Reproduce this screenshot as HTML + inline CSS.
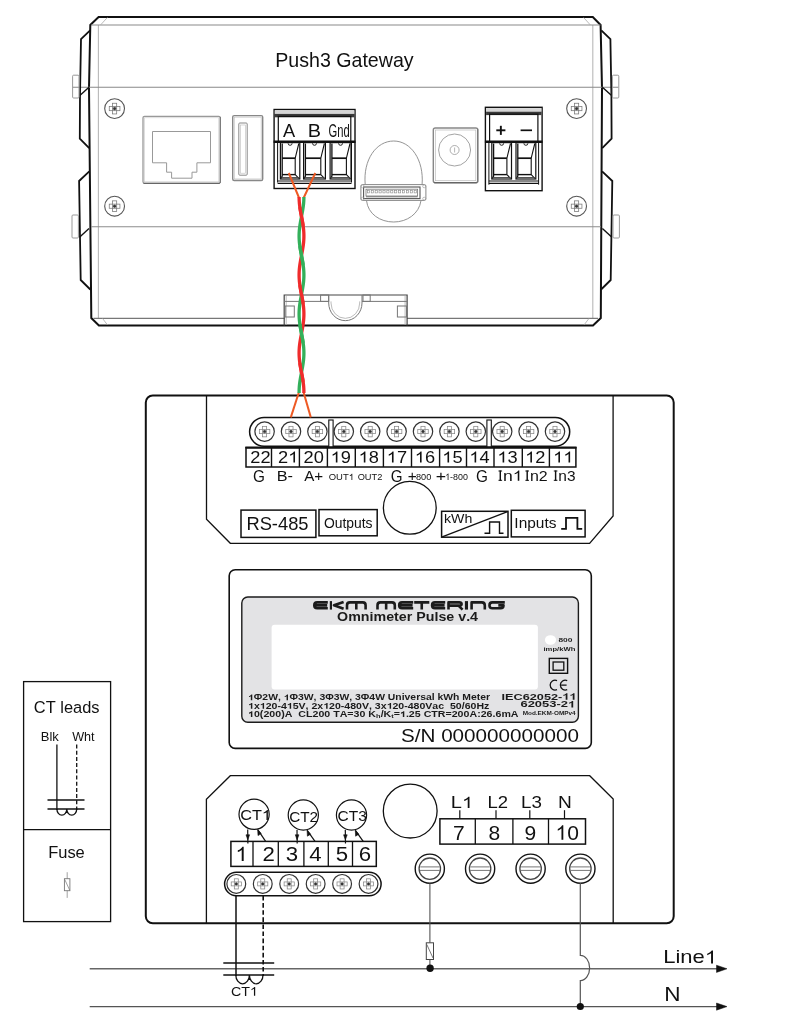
<!DOCTYPE html>
<html><head><meta charset="utf-8"><style>
html,body{margin:0;padding:0;background:#fff;}
svg{display:block;font-family:"Liberation Sans", sans-serif;will-change:transform;}
text{font-kerning:none;white-space:pre;}
</style></head><body>
<svg width="791" height="1024" viewBox="0 0 791 1024">
<rect x="0" y="0" width="791" height="1024" fill="#fff"/>
<path d="M98.6,17 L592.8,17 L600.6,25 L602,88 L600.8,318 L593,325.4 L98.9,325.4 L91.3,318 L89,88 L90.3,25 Z" stroke="#111" stroke-width="2.0" fill="none" stroke-linejoin="miter"/>
<line x1="98.4" y1="25" x2="98.4" y2="318.4" stroke="#b8b8b8" stroke-width="1.1" />
<line x1="592.8" y1="25" x2="592.8" y2="318.4" stroke="#b8b8b8" stroke-width="1.1" />
<line x1="91" y1="25" x2="600.5" y2="25" stroke="#8a8a8a" stroke-width="1.2" />
<line x1="93.4" y1="318.4" x2="284.5" y2="318.4" stroke="#777" stroke-width="1.1" />
<line x1="407" y1="318.4" x2="598" y2="318.4" stroke="#777" stroke-width="1.1" />
<line x1="107.4" y1="17.5" x2="100.5" y2="25" stroke="#aaa" stroke-width="0.8" />
<line x1="583.6" y1="17.5" x2="590.4" y2="25" stroke="#aaa" stroke-width="0.8" />
<line x1="102.5" y1="318.4" x2="107.5" y2="325" stroke="#aaa" stroke-width="0.8" />
<line x1="589" y1="318.4" x2="584" y2="325" stroke="#aaa" stroke-width="0.8" />
<line x1="72.6" y1="87.3" x2="618.4" y2="87.3" stroke="#888" stroke-width="1.1" />
<line x1="91" y1="226.7" x2="600.8" y2="226.7" stroke="#8c8c8c" stroke-width="1.1" />
<path d="M90.1,30.3 L81,39.2 L80,95.5 L79.8,138.6 L89.2,148.1" stroke="#111" stroke-width="1.8" fill="none" />
<path d="M89,87.3 L79.8,95.5" stroke="#111" stroke-width="1.4" fill="none" />
<path d="M89.3,171.3 L79.1,181 L80.7,280 L90.3,289.5" stroke="#111" stroke-width="1.8" fill="none" />
<path d="M89,228.4 L79.5,237.2" stroke="#111" stroke-width="1.4" fill="none" />
<path d="M601.3,30.3 L610.4,39.2 L611.4,95.5 L611.6,138.6 L602.2,148.1" stroke="#111" stroke-width="1.8" fill="none" />
<path d="M602.4,87.3 L611.6,95.5" stroke="#111" stroke-width="1.4" fill="none" />
<path d="M602.1,171.3 L612.3,181 L610.7,280 L601.1,289.5" stroke="#111" stroke-width="1.8" fill="none" />
<path d="M602.4,228.4 L611.9,237.2" stroke="#111" stroke-width="1.4" fill="none" />
<rect x="72.6" y="75.2" width="6.4" height="22.8" stroke="#999" stroke-width="1" fill="none" rx="1" />
<rect x="72.0" y="215" width="6.4" height="23" stroke="#999" stroke-width="1" fill="none" rx="1" />
<rect x="612.4" y="75.2" width="6.4" height="22.8" stroke="#999" stroke-width="1" fill="none" rx="1" />
<rect x="613.0" y="215" width="6.4" height="23" stroke="#999" stroke-width="1" fill="none" rx="1" />
<text transform="translate(275.19,66.60) scale(0.9876,1)" font-size="19.87" font-weight="normal" fill="#111" >Push3 Gateway</text>
<circle cx="114.6" cy="108.6" r="9.9" stroke="#555" stroke-width="1.1" fill="none" />
<rect x="109.25" y="106.52" width="10.69" height="4.16" stroke="#777" stroke-width="0.75" fill="none" rx="0" />
<rect x="112.52" y="103.25" width="4.16" height="10.69" stroke="#777" stroke-width="0.75" fill="none" rx="0" />
<circle cx="114.6" cy="108.6" r="1.2870000000000001" stroke="#333" stroke-width="0.6" fill="#333" />
<circle cx="114.6" cy="206.2" r="9.9" stroke="#555" stroke-width="1.1" fill="none" />
<rect x="109.25" y="204.12" width="10.69" height="4.16" stroke="#777" stroke-width="0.75" fill="none" rx="0" />
<rect x="112.52" y="200.85" width="4.16" height="10.69" stroke="#777" stroke-width="0.75" fill="none" rx="0" />
<circle cx="114.6" cy="206.2" r="1.2870000000000001" stroke="#333" stroke-width="0.6" fill="#333" />
<circle cx="576.6" cy="108.6" r="9.9" stroke="#555" stroke-width="1.1" fill="none" />
<rect x="571.25" y="106.52" width="10.69" height="4.16" stroke="#777" stroke-width="0.75" fill="none" rx="0" />
<rect x="574.52" y="103.25" width="4.16" height="10.69" stroke="#777" stroke-width="0.75" fill="none" rx="0" />
<circle cx="576.6" cy="108.6" r="1.2870000000000001" stroke="#333" stroke-width="0.6" fill="#333" />
<circle cx="576.6" cy="206.2" r="9.9" stroke="#555" stroke-width="1.1" fill="none" />
<rect x="571.25" y="204.12" width="10.69" height="4.16" stroke="#777" stroke-width="0.75" fill="none" rx="0" />
<rect x="574.52" y="200.85" width="4.16" height="10.69" stroke="#777" stroke-width="0.75" fill="none" rx="0" />
<circle cx="576.6" cy="206.2" r="1.2870000000000001" stroke="#333" stroke-width="0.6" fill="#333" />
<rect x="143.0" y="116.3" width="77.3" height="67.0" stroke="#999" stroke-width="1.3" fill="none" rx="1.5" />
<line x1="143.5" y1="183.3" x2="219.8" y2="183.3" stroke="#666" stroke-width="1.2" />
<line x1="220.3" y1="117" x2="220.3" y2="183" stroke="#777" stroke-width="1.1" />
<rect x="144.5" y="117.8" width="74.3" height="64.0" stroke="#c8c8c8" stroke-width="0.6" fill="none" rx="0" />
<path d="M152.5,131.5 L210.5,131.5 L210.5,162.8 L196.9,162.8 L196.9,172.2 L192,172.2 L192,178.2 L171.6,178.2 L171.6,172.2 L166.6,172.2 L166.6,162.8 L152.5,162.8 Z" stroke="#999" stroke-width="1" fill="none" />
<rect x="232.7" y="115.6" width="30" height="64.9" stroke="#888" stroke-width="1.4" fill="none" rx="1.5" />
<rect x="234.2" y="117.1" width="27" height="61.9" stroke="#bbb" stroke-width="0.7" fill="none" rx="0" />
<rect x="238.8" y="123" width="8.4" height="52.2" stroke="#888" stroke-width="1" fill="none" rx="1" />
<rect x="240.4" y="125" width="5.2" height="48.2" stroke="#bbb" stroke-width="0.6" fill="none" rx="0" />
<path d="M365.2,184.4 C363,160 376,141 393.7,141 C411,141 424,160 422.1,184.4" stroke="#888" stroke-width="0.9" fill="none" />
<path d="M366.5,200.6 C368,214 380,222 393.7,222 C407,222 419,214 421,200.6" stroke="#888" stroke-width="0.9" fill="none" />
<rect x="360.9" y="184.6" width="65" height="15.8" stroke="#888" stroke-width="1" fill="none" rx="1.5" />
<rect x="363.6" y="187.0" width="56.4" height="11.6" stroke="#555" stroke-width="1.1" fill="none" rx="0" />
<rect x="366.0" y="189.2" width="51.6" height="6.8" stroke="#777" stroke-width="0.8" fill="none" rx="0" />
<rect x="367.3" y="190.3" width="2.2" height="2.6" stroke="#888" stroke-width="0.6" fill="none" rx="0" />
<rect x="371.2" y="190.3" width="2.2" height="2.6" stroke="#888" stroke-width="0.6" fill="none" rx="0" />
<rect x="375.1" y="190.3" width="2.2" height="2.6" stroke="#888" stroke-width="0.6" fill="none" rx="0" />
<rect x="379.0" y="190.3" width="2.2" height="2.6" stroke="#888" stroke-width="0.6" fill="none" rx="0" />
<rect x="382.9" y="190.3" width="2.2" height="2.6" stroke="#888" stroke-width="0.6" fill="none" rx="0" />
<rect x="386.8" y="190.3" width="2.2" height="2.6" stroke="#888" stroke-width="0.6" fill="none" rx="0" />
<rect x="390.7" y="190.3" width="2.2" height="2.6" stroke="#888" stroke-width="0.6" fill="none" rx="0" />
<rect x="394.6" y="190.3" width="2.2" height="2.6" stroke="#888" stroke-width="0.6" fill="none" rx="0" />
<rect x="398.5" y="190.3" width="2.2" height="2.6" stroke="#888" stroke-width="0.6" fill="none" rx="0" />
<rect x="402.4" y="190.3" width="2.2" height="2.6" stroke="#888" stroke-width="0.6" fill="none" rx="0" />
<rect x="406.3" y="190.3" width="2.2" height="2.6" stroke="#888" stroke-width="0.6" fill="none" rx="0" />
<rect x="410.2" y="190.3" width="2.2" height="2.6" stroke="#888" stroke-width="0.6" fill="none" rx="0" />
<rect x="414.1" y="190.3" width="2.2" height="2.6" stroke="#888" stroke-width="0.6" fill="none" rx="0" />
<line x1="366" y1="196.8" x2="417.6" y2="196.8" stroke="#666" stroke-width="0.9" />
<circle cx="362.6" cy="186.3" r="1.5" stroke="#999" stroke-width="0.6" fill="none" />
<circle cx="424.2" cy="186.3" r="1.5" stroke="#999" stroke-width="0.6" fill="none" />
<circle cx="362.6" cy="198.7" r="1.5" stroke="#999" stroke-width="0.6" fill="none" />
<circle cx="424.2" cy="198.7" r="1.5" stroke="#999" stroke-width="0.6" fill="none" />
<rect x="433.3" y="128" width="44.5" height="54.7" stroke="#888" stroke-width="1.4" fill="none" rx="2" />
<rect x="435.3" y="130" width="40.5" height="50.7" stroke="#bbb" stroke-width="0.7" fill="none" rx="0" />
<line x1="434" y1="182.6" x2="477.2" y2="182.6" stroke="#666" stroke-width="1.2" />
<line x1="477.7" y1="129" x2="477.7" y2="182.3" stroke="#777" stroke-width="1.1" />
<circle cx="454.6" cy="150" r="16" stroke="#999" stroke-width="0.9" fill="none" />
<circle cx="454.6" cy="150" r="4.5" stroke="#999" stroke-width="0.8" fill="none" />
<line x1="454.6" y1="147.5" x2="454.6" y2="152.5" stroke="#999" stroke-width="0.7" />
<path d="M284.2,325.4 L284.2,295 L407.1,295 L407.1,325.4" stroke="#444" stroke-width="1.2" fill="none" />
<line x1="286.2" y1="296" x2="286.2" y2="325" stroke="#aaa" stroke-width="0.8" />
<line x1="405.1" y1="296" x2="405.1" y2="325" stroke="#aaa" stroke-width="0.8" />
<line x1="284.2" y1="301.4" x2="328.7" y2="301.4" stroke="#777" stroke-width="1" />
<line x1="362" y1="301.4" x2="407.1" y2="301.4" stroke="#777" stroke-width="1" />
<rect x="320.6" y="295" width="8.1" height="6.4" stroke="#777" stroke-width="1" fill="none" rx="0" />
<rect x="363" y="295" width="7.2" height="6.4" stroke="#777" stroke-width="1" fill="none" rx="0" />
<path d="M328.7,295 L328.7,303 A16.6,17.6 0 0 0 362,303 L362,295" stroke="#777" stroke-width="1" fill="none" />
<path d="M331,301.4 L331,303 A14.3,15.3 0 0 0 359.7,303 L359.7,301.4" stroke="#aaa" stroke-width="0.8" fill="none" />
<rect x="285.2" y="306" width="9.1" height="11" stroke="#777" stroke-width="1" fill="none" rx="0" />
<rect x="397.4" y="306" width="9.1" height="11" stroke="#777" stroke-width="1" fill="none" rx="0" />
<rect x="274.1" y="109.5" width="80.89999999999998" height="79.0" stroke="#111" stroke-width="1.4" fill="none" rx="0" />
<rect x="274.8" y="110.3" width="79.49999999999997" height="3.6" fill="#d6d6d6"/>
<rect x="274.8" y="113.9" width="79.49999999999997" height="3.4" fill="#3a3a3a"/>
<rect x="278.3" y="116.4" width="72.49999999999997" height="25.29999999999999" stroke="#111" stroke-width="1.2" fill="none" rx="0" />
<line x1="273.6" y1="141.7" x2="355.5" y2="141.7" stroke="#111" stroke-width="2.4" />
<line x1="277.6" y1="141.7" x2="277.6" y2="182.5" stroke="#111" stroke-width="1" />
<line x1="351.5" y1="141.7" x2="351.5" y2="182.5" stroke="#111" stroke-width="1" />
<rect x="280.4" y="142.6" width="19.400000000000034" height="36.400000000000006" stroke="#111" stroke-width="1.2" fill="none" rx="0" />
<path d="M282.2,143.5 L282.2,176 L281.0,178.6" stroke="#111" stroke-width="1.3" fill="none" />
<path d="M298.8,143.5 L295.2,158.2 L295.2,174.6 L298.8,178.4" stroke="#111" stroke-width="1.1" fill="none" />
<line x1="282.2" y1="158.2" x2="295.2" y2="158.2" stroke="#111" stroke-width="1.7" />
<line x1="282.2" y1="174.6" x2="295.2" y2="174.6" stroke="#111" stroke-width="1.4" />
<line x1="281.4" y1="177.6" x2="298.8" y2="177.6" stroke="#444" stroke-width="1.0" />
<path d="M288.1,143.3 A2,2 0 0 0 292.1,143.3" stroke="#111" stroke-width="0.9" fill="none" />
<rect x="303.6" y="142.6" width="21.799999999999955" height="36.400000000000006" stroke="#111" stroke-width="1.2" fill="none" rx="0" />
<path d="M305.40000000000003,143.5 L305.40000000000003,176 L304.20000000000005,178.6" stroke="#111" stroke-width="1.3" fill="none" />
<path d="M324.4,143.5 L320.79999999999995,158.2 L320.79999999999995,174.6 L324.4,178.4" stroke="#111" stroke-width="1.1" fill="none" />
<line x1="305.40000000000003" y1="158.2" x2="320.79999999999995" y2="158.2" stroke="#111" stroke-width="1.7" />
<line x1="305.40000000000003" y1="174.6" x2="320.79999999999995" y2="174.6" stroke="#111" stroke-width="1.4" />
<line x1="304.6" y1="177.6" x2="324.4" y2="177.6" stroke="#444" stroke-width="1.0" />
<path d="M312.5,143.3 A2,2 0 0 0 316.5,143.3" stroke="#111" stroke-width="0.9" fill="none" />
<rect x="330.1" y="142.6" width="20.899999999999977" height="36.400000000000006" stroke="#111" stroke-width="1.2" fill="none" rx="0" />
<path d="M331.90000000000003,143.5 L331.90000000000003,176 L330.70000000000005,178.6" stroke="#111" stroke-width="1.3" fill="none" />
<path d="M350,143.5 L346.4,158.2 L346.4,174.6 L350,178.4" stroke="#111" stroke-width="1.1" fill="none" />
<line x1="331.90000000000003" y1="158.2" x2="346.4" y2="158.2" stroke="#111" stroke-width="1.7" />
<line x1="331.90000000000003" y1="174.6" x2="346.4" y2="174.6" stroke="#111" stroke-width="1.4" />
<line x1="331.1" y1="177.6" x2="350.0" y2="177.6" stroke="#444" stroke-width="1.0" />
<path d="M338.55,143.3 A2,2 0 0 0 342.55,143.3" stroke="#111" stroke-width="0.9" fill="none" />
<line x1="277.6" y1="183.4" x2="351.5" y2="183.4" stroke="#111" stroke-width="1.2" />
<line x1="277.6" y1="181" x2="351.5" y2="181" stroke="#111" stroke-width="1" />
<text transform="translate(283.06,136.70) scale(0.9584,1)" font-size="19.04" font-weight="normal" fill="#111" >A</text>
<text transform="translate(307.77,136.70) scale(1.0460,1)" font-size="19.04" font-weight="normal" fill="#111" >B</text>
<text transform="translate(328.54,136.70) scale(0.5972,1)" font-size="18.77" font-weight="normal" fill="#111" >Gnd</text>
<rect x="485.4" y="107.3" width="56.700000000000045" height="83.39999999999999" stroke="#111" stroke-width="1.4" fill="none" rx="0" />
<rect x="486.09999999999997" y="108.1" width="55.30000000000005" height="3.6" fill="#d6d6d6"/>
<rect x="486.09999999999997" y="111.7" width="55.30000000000005" height="3.4" fill="#3a3a3a"/>
<rect x="489.59999999999997" y="114.2" width="48.30000000000005" height="27.499999999999993" stroke="#111" stroke-width="1.2" fill="none" rx="0" />
<line x1="484.9" y1="141.7" x2="542.6" y2="141.7" stroke="#111" stroke-width="2.4" />
<line x1="488.9" y1="141.7" x2="488.9" y2="184.7" stroke="#111" stroke-width="1" />
<line x1="538.6" y1="141.7" x2="538.6" y2="184.7" stroke="#111" stroke-width="1" />
<rect x="491.8" y="142.6" width="19.69999999999999" height="36.400000000000006" stroke="#111" stroke-width="1.2" fill="none" rx="0" />
<path d="M493.6,143.5 L493.6,176 L492.40000000000003,178.6" stroke="#111" stroke-width="1.3" fill="none" />
<path d="M510.5,143.5 L506.9,158.2 L506.9,174.6 L510.5,178.4" stroke="#111" stroke-width="1.1" fill="none" />
<line x1="493.6" y1="158.2" x2="506.9" y2="158.2" stroke="#111" stroke-width="1.7" />
<line x1="493.6" y1="174.6" x2="506.9" y2="174.6" stroke="#111" stroke-width="1.4" />
<line x1="492.8" y1="177.6" x2="510.5" y2="177.6" stroke="#444" stroke-width="1.0" />
<path d="M499.65,143.3 A2,2 0 0 0 503.65,143.3" stroke="#111" stroke-width="0.9" fill="none" />
<rect x="516" y="142.6" width="19.799999999999955" height="36.400000000000006" stroke="#111" stroke-width="1.2" fill="none" rx="0" />
<path d="M517.8,143.5 L517.8,176 L516.6,178.6" stroke="#111" stroke-width="1.3" fill="none" />
<path d="M534.8,143.5 L531.1999999999999,158.2 L531.1999999999999,174.6 L534.8,178.4" stroke="#111" stroke-width="1.1" fill="none" />
<line x1="517.8" y1="158.2" x2="531.1999999999999" y2="158.2" stroke="#111" stroke-width="1.7" />
<line x1="517.8" y1="174.6" x2="531.1999999999999" y2="174.6" stroke="#111" stroke-width="1.4" />
<line x1="517.0" y1="177.6" x2="534.8" y2="177.6" stroke="#444" stroke-width="1.0" />
<path d="M523.9,143.3 A2,2 0 0 0 527.9,143.3" stroke="#111" stroke-width="0.9" fill="none" />
<line x1="488.9" y1="183.4" x2="538.6" y2="183.4" stroke="#111" stroke-width="1.2" />
<line x1="488.9" y1="181" x2="538.6" y2="181" stroke="#111" stroke-width="1" />
<line x1="496.3" y1="130.3" x2="505.4" y2="130.3" stroke="#111" stroke-width="1.9" />
<line x1="500.85" y1="125.8" x2="500.85" y2="134.9" stroke="#111" stroke-width="1.9" />
<line x1="520.6" y1="130.3" x2="532" y2="130.3" stroke="#111" stroke-width="1.7" />
<rect x="145.8" y="395.4" width="527.9" height="527.9" stroke="#111" stroke-width="2" fill="none" rx="7" />
<path d="M206.5,395.4 L206.5,519.3 L230.3,543.3 L589.6,543.3 L613.1,516 L613.1,395.4" stroke="#111" stroke-width="1.3" fill="none" />
<path d="M206.4,923.3 L206.4,799.2 L230.3,775.7 L589.7,775.7 L613.2,799.1 L613.2,923.3" stroke="#111" stroke-width="1.3" fill="none" />
<rect x="249.6" y="417.4" width="320.1" height="28.9" stroke="#111" stroke-width="1.5" fill="none" rx="14.45" />
<circle cx="264.6" cy="431.6" r="9.7" stroke="#333" stroke-width="1.2" fill="none" />
<rect x="259.36" y="429.56" width="10.48" height="4.07" stroke="#888" stroke-width="0.75" fill="none" rx="0" />
<rect x="262.56" y="426.36" width="4.07" height="10.48" stroke="#888" stroke-width="0.75" fill="none" rx="0" />
<circle cx="264.6" cy="431.6" r="1.261" stroke="#333" stroke-width="0.6" fill="#333" />
<circle cx="291.0" cy="431.6" r="9.7" stroke="#333" stroke-width="1.2" fill="none" />
<rect x="285.76" y="429.56" width="10.48" height="4.07" stroke="#888" stroke-width="0.75" fill="none" rx="0" />
<rect x="288.96" y="426.36" width="4.07" height="10.48" stroke="#888" stroke-width="0.75" fill="none" rx="0" />
<circle cx="291.0" cy="431.6" r="1.261" stroke="#333" stroke-width="0.6" fill="#333" />
<circle cx="317.4" cy="431.6" r="9.7" stroke="#333" stroke-width="1.2" fill="none" />
<rect x="312.16" y="429.56" width="10.48" height="4.07" stroke="#888" stroke-width="0.75" fill="none" rx="0" />
<rect x="315.36" y="426.36" width="4.07" height="10.48" stroke="#888" stroke-width="0.75" fill="none" rx="0" />
<circle cx="317.4" cy="431.6" r="1.261" stroke="#333" stroke-width="0.6" fill="#333" />
<circle cx="343.8" cy="431.6" r="9.7" stroke="#333" stroke-width="1.2" fill="none" />
<rect x="338.56" y="429.56" width="10.48" height="4.07" stroke="#888" stroke-width="0.75" fill="none" rx="0" />
<rect x="341.76" y="426.36" width="4.07" height="10.48" stroke="#888" stroke-width="0.75" fill="none" rx="0" />
<circle cx="343.8" cy="431.6" r="1.261" stroke="#333" stroke-width="0.6" fill="#333" />
<circle cx="370.2" cy="431.6" r="9.7" stroke="#333" stroke-width="1.2" fill="none" />
<rect x="364.96" y="429.56" width="10.48" height="4.07" stroke="#888" stroke-width="0.75" fill="none" rx="0" />
<rect x="368.16" y="426.36" width="4.07" height="10.48" stroke="#888" stroke-width="0.75" fill="none" rx="0" />
<circle cx="370.2" cy="431.6" r="1.261" stroke="#333" stroke-width="0.6" fill="#333" />
<circle cx="396.6" cy="431.6" r="9.7" stroke="#333" stroke-width="1.2" fill="none" />
<rect x="391.36" y="429.56" width="10.48" height="4.07" stroke="#888" stroke-width="0.75" fill="none" rx="0" />
<rect x="394.56" y="426.36" width="4.07" height="10.48" stroke="#888" stroke-width="0.75" fill="none" rx="0" />
<circle cx="396.6" cy="431.6" r="1.261" stroke="#333" stroke-width="0.6" fill="#333" />
<circle cx="423.0" cy="431.6" r="9.7" stroke="#333" stroke-width="1.2" fill="none" />
<rect x="417.76" y="429.56" width="10.48" height="4.07" stroke="#888" stroke-width="0.75" fill="none" rx="0" />
<rect x="420.96" y="426.36" width="4.07" height="10.48" stroke="#888" stroke-width="0.75" fill="none" rx="0" />
<circle cx="423.0" cy="431.6" r="1.261" stroke="#333" stroke-width="0.6" fill="#333" />
<circle cx="449.4" cy="431.6" r="9.7" stroke="#333" stroke-width="1.2" fill="none" />
<rect x="444.16" y="429.56" width="10.48" height="4.07" stroke="#888" stroke-width="0.75" fill="none" rx="0" />
<rect x="447.36" y="426.36" width="4.07" height="10.48" stroke="#888" stroke-width="0.75" fill="none" rx="0" />
<circle cx="449.4" cy="431.6" r="1.261" stroke="#333" stroke-width="0.6" fill="#333" />
<circle cx="475.8" cy="431.6" r="9.7" stroke="#333" stroke-width="1.2" fill="none" />
<rect x="470.56" y="429.56" width="10.48" height="4.07" stroke="#888" stroke-width="0.75" fill="none" rx="0" />
<rect x="473.76" y="426.36" width="4.07" height="10.48" stroke="#888" stroke-width="0.75" fill="none" rx="0" />
<circle cx="475.8" cy="431.6" r="1.261" stroke="#333" stroke-width="0.6" fill="#333" />
<circle cx="502.2" cy="431.6" r="9.7" stroke="#333" stroke-width="1.2" fill="none" />
<rect x="496.96" y="429.56" width="10.48" height="4.07" stroke="#888" stroke-width="0.75" fill="none" rx="0" />
<rect x="500.16" y="426.36" width="4.07" height="10.48" stroke="#888" stroke-width="0.75" fill="none" rx="0" />
<circle cx="502.2" cy="431.6" r="1.261" stroke="#333" stroke-width="0.6" fill="#333" />
<circle cx="528.6" cy="431.6" r="9.7" stroke="#333" stroke-width="1.2" fill="none" />
<rect x="523.36" y="429.56" width="10.48" height="4.07" stroke="#888" stroke-width="0.75" fill="none" rx="0" />
<rect x="526.56" y="426.36" width="4.07" height="10.48" stroke="#888" stroke-width="0.75" fill="none" rx="0" />
<circle cx="528.6" cy="431.6" r="1.261" stroke="#333" stroke-width="0.6" fill="#333" />
<circle cx="555.0" cy="431.6" r="9.7" stroke="#333" stroke-width="1.2" fill="none" />
<rect x="549.76" y="429.56" width="10.48" height="4.07" stroke="#888" stroke-width="0.75" fill="none" rx="0" />
<rect x="552.96" y="426.36" width="4.07" height="10.48" stroke="#888" stroke-width="0.75" fill="none" rx="0" />
<circle cx="555.0" cy="431.6" r="1.261" stroke="#333" stroke-width="0.6" fill="#333" />
<rect x="328.8" y="420" width="4.3" height="27" stroke="#111" stroke-width="1.1" fill="#fff" rx="0" />
<rect x="486.9" y="420" width="4.4" height="27" stroke="#111" stroke-width="1.1" fill="#fff" rx="0" />
<rect x="246" y="447.8" width="329.9" height="19.2" stroke="#111" stroke-width="1.5" fill="none" rx="0" />
<line x1="245.3" y1="447.6" x2="576.6" y2="447.6" stroke="#111" stroke-width="2.0" />
<text transform="translate(250.31,462.60) scale(1.1400,1)" font-size="16.00" font-weight="normal" fill="#111" >22</text>
<line x1="271.5" y1="447.6" x2="271.5" y2="467" stroke="#111" stroke-width="1.4" />
<path d="M763,0 L583,0 L583,1098 C540,1059 483,1019 413,980 C343,941 280,911 223,890 L223,1057 C324,1102 412,1157 487,1221 C562,1285 616,1348 647,1409 L763,1409 Z" fill="#111" transform="translate(288.22,462.60) scale(0.00891,-0.00781)"/>
<text transform="translate(278.07,462.60) scale(1.1400,1)" font-size="16.00" font-weight="normal" fill="#111" >2 </text>
<line x1="299.4" y1="447.6" x2="299.4" y2="467" stroke="#111" stroke-width="1.4" />
<text transform="translate(303.60,462.60) scale(1.1400,1)" font-size="16.00" font-weight="normal" fill="#111" >20</text>
<line x1="327.4" y1="447.6" x2="327.4" y2="467" stroke="#111" stroke-width="1.4" />
<path d="M763,0 L583,0 L583,1098 C540,1059 483,1019 413,980 C343,941 280,911 223,890 L223,1057 C324,1102 412,1157 487,1221 C562,1285 616,1348 647,1409 L763,1409 Z" fill="#111" transform="translate(330.64,462.60) scale(0.00891,-0.00781)"/>
<text transform="translate(330.64,462.60) scale(1.1400,1)" font-size="16.00" font-weight="normal" fill="#111" > 9</text>
<line x1="355.3" y1="447.6" x2="355.3" y2="467" stroke="#111" stroke-width="1.4" />
<path d="M763,0 L583,0 L583,1098 C540,1059 483,1019 413,980 C343,941 280,911 223,890 L223,1057 C324,1102 412,1157 487,1221 C562,1285 616,1348 647,1409 L763,1409 Z" fill="#111" transform="translate(358.61,462.60) scale(0.00891,-0.00781)"/>
<text transform="translate(358.61,462.60) scale(1.1400,1)" font-size="16.00" font-weight="normal" fill="#111" > 8</text>
<line x1="383.4" y1="447.6" x2="383.4" y2="467" stroke="#111" stroke-width="1.4" />
<path d="M763,0 L583,0 L583,1098 C540,1059 483,1019 413,980 C343,941 280,911 223,890 L223,1057 C324,1102 412,1157 487,1221 C562,1285 616,1348 647,1409 L763,1409 Z" fill="#111" transform="translate(386.77,462.60) scale(0.00891,-0.00781)"/>
<text transform="translate(386.77,462.60) scale(1.1400,1)" font-size="16.00" font-weight="normal" fill="#111" > 7</text>
<line x1="411.5" y1="447.6" x2="411.5" y2="467" stroke="#111" stroke-width="1.4" />
<path d="M763,0 L583,0 L583,1098 C540,1059 483,1019 413,980 C343,941 280,911 223,890 L223,1057 C324,1102 412,1157 487,1221 C562,1285 616,1348 647,1409 L763,1409 Z" fill="#111" transform="translate(414.81,462.60) scale(0.00891,-0.00781)"/>
<text transform="translate(414.81,462.60) scale(1.1400,1)" font-size="16.00" font-weight="normal" fill="#111" > 6</text>
<line x1="439.6" y1="447.6" x2="439.6" y2="467" stroke="#111" stroke-width="1.4" />
<path d="M763,0 L583,0 L583,1098 C540,1059 483,1019 413,980 C343,941 280,911 223,890 L223,1057 C324,1102 412,1157 487,1221 C562,1285 616,1348 647,1409 L763,1409 Z" fill="#111" transform="translate(442.30,462.60) scale(0.00891,-0.00781)"/>
<text transform="translate(442.30,462.60) scale(1.1400,1)" font-size="16.00" font-weight="normal" fill="#111" > 5</text>
<line x1="466.5" y1="447.6" x2="466.5" y2="467" stroke="#111" stroke-width="1.4" />
<path d="M763,0 L583,0 L583,1098 C540,1059 483,1019 413,980 C343,941 280,911 223,890 L223,1057 C324,1102 412,1157 487,1221 C562,1285 616,1348 647,1409 L763,1409 Z" fill="#111" transform="translate(469.38,462.60) scale(0.00891,-0.00781)"/>
<text transform="translate(469.38,462.60) scale(1.1400,1)" font-size="16.00" font-weight="normal" fill="#111" > 4</text>
<line x1="494" y1="447.6" x2="494" y2="467" stroke="#111" stroke-width="1.4" />
<path d="M763,0 L583,0 L583,1098 C540,1059 483,1019 413,980 C343,941 280,911 223,890 L223,1057 C324,1102 412,1157 487,1221 C562,1285 616,1348 647,1409 L763,1409 Z" fill="#111" transform="translate(497.41,462.60) scale(0.00891,-0.00781)"/>
<text transform="translate(497.41,462.60) scale(1.1400,1)" font-size="16.00" font-weight="normal" fill="#111" > 3</text>
<line x1="522.3" y1="447.6" x2="522.3" y2="467" stroke="#111" stroke-width="1.4" />
<path d="M763,0 L583,0 L583,1098 C540,1059 483,1019 413,980 C343,941 280,911 223,890 L223,1057 C324,1102 412,1157 487,1221 C562,1285 616,1348 647,1409 L763,1409 Z" fill="#111" transform="translate(525.17,462.60) scale(0.00891,-0.00781)"/>
<text transform="translate(525.17,462.60) scale(1.1400,1)" font-size="16.00" font-weight="normal" fill="#111" > 2</text>
<line x1="549.4" y1="447.6" x2="549.4" y2="467" stroke="#111" stroke-width="1.4" />
<path d="M763,0 L583,0 L583,1098 C540,1059 483,1019 413,980 C343,941 280,911 223,890 L223,1057 C324,1102 412,1157 487,1221 C562,1285 616,1348 647,1409 L763,1409 Z" fill="#111" transform="translate(553.19,462.60) scale(0.00891,-0.00781)"/>
<path d="M763,0 L583,0 L583,1098 C540,1059 483,1019 413,980 C343,941 280,911 223,890 L223,1057 C324,1102 412,1157 487,1221 C562,1285 616,1348 647,1409 L763,1409 Z" fill="#111" transform="translate(563.33,462.60) scale(0.00891,-0.00781)"/>
<text transform="translate(553.19,462.60) scale(1.1400,1)" font-size="16.00" font-weight="normal" fill="#111" >  </text>
<text transform="translate(253.03,481.50) scale(0.9550,1)" font-size="16.04" font-weight="normal" fill="#111" >G</text>
<text transform="translate(276.67,481.40) scale(1.0551,1)" font-size="15.41" font-weight="normal" fill="#111" >B-</text>
<text transform="translate(304.17,481.40) scale(0.9846,1)" font-size="15.41" font-weight="normal" fill="#111" >A+</text>
<path d="M763,0 L583,0 L583,1098 C540,1059 483,1019 413,980 C343,941 280,911 223,890 L223,1057 C324,1102 412,1157 487,1221 C562,1285 616,1348 647,1409 L763,1409 Z" fill="#111" transform="translate(348.77,479.90) scale(0.00463,-0.00434)"/>
<text transform="translate(328.75,479.90) scale(1.0679,1)" font-size="8.88" font-weight="normal" fill="#111" >OUT </text>
<text transform="translate(357.66,479.90) scale(1.0432,1)" font-size="8.88" font-weight="normal" fill="#111" >OUT2</text>
<text transform="translate(390.64,481.50) scale(0.9454,1)" font-size="16.04" font-weight="normal" fill="#111" >G</text>
<text transform="translate(407.71,481.30) scale(1.0000,1)" font-size="15.40" font-weight="normal" fill="#111" >+</text>
<text transform="translate(416.00,479.90) scale(0.9739,1)" font-size="9.45" font-weight="normal" fill="#111" >800</text>
<text transform="translate(435.63,481.30) scale(1.1500,1)" font-size="15.40" font-weight="normal" fill="#111" >+</text>
<path d="M763,0 L583,0 L583,1098 C540,1059 483,1019 413,980 C343,941 280,911 223,890 L223,1057 C324,1102 412,1157 487,1221 C562,1285 616,1348 647,1409 L763,1409 Z" fill="#111" transform="translate(445.13,479.90) scale(0.00436,-0.00462)"/>
<text transform="translate(445.13,479.90) scale(0.9439,1)" font-size="9.45" font-weight="normal" fill="#111" > -800</text>
<text transform="translate(476.03,481.50) scale(0.9550,1)" font-size="16.04" font-weight="normal" fill="#111" >G</text>
<line x1="500.3" y1="470.5" x2="500.3" y2="480.8" stroke="#111" stroke-width="1.45" />
<line x1="498.5" y1="471.0" x2="502.1" y2="471.0" stroke="#111" stroke-width="1.0" />
<line x1="498.5" y1="480.3" x2="502.1" y2="480.3" stroke="#111" stroke-width="1.0" />
<path d="M763,0 L583,0 L583,1098 C540,1059 483,1019 413,980 C343,941 280,911 223,890 L223,1057 C324,1102 412,1157 487,1221 C562,1285 616,1348 647,1409 L763,1409 Z" fill="#111" transform="translate(512.73,480.80) scale(0.00861,-0.00724)"/>
<text transform="translate(502.93,480.80) scale(1.1890,1)" font-size="14.83" font-weight="normal" fill="#111" >n </text>
<line x1="527.1999999999999" y1="470.5" x2="527.1999999999999" y2="480.8" stroke="#111" stroke-width="1.45" />
<line x1="525.4" y1="471.0" x2="529.0" y2="471.0" stroke="#111" stroke-width="1.0" />
<line x1="525.4" y1="480.3" x2="529.0" y2="480.3" stroke="#111" stroke-width="1.0" />
<text transform="translate(529.94,480.80) scale(1.0932,1)" font-size="14.61" font-weight="normal" fill="#111" >n2</text>
<line x1="555.5999999999999" y1="470.5" x2="555.5999999999999" y2="480.8" stroke="#111" stroke-width="1.45" />
<line x1="553.8" y1="471.0" x2="557.4" y2="471.0" stroke="#111" stroke-width="1.0" />
<line x1="553.8" y1="480.3" x2="557.4" y2="480.3" stroke="#111" stroke-width="1.0" />
<text transform="translate(558.37,480.80) scale(1.0590,1)" font-size="14.61" font-weight="normal" fill="#111" >n3</text>
<rect x="241.0" y="510.1" width="74.9" height="27.3" stroke="#111" stroke-width="1.5" fill="none" rx="0" />
<text transform="translate(246.40,529.80) scale(1.0082,1)" font-size="18.19" font-weight="normal" fill="#111" >RS-485</text>
<rect x="319.0" y="509.6" width="58.2" height="26.2" stroke="#111" stroke-width="1.5" fill="none" rx="0" />
<text transform="translate(323.94,527.60) scale(1.0005,1)" font-size="13.89" font-weight="normal" fill="#111" >Outputs</text>
<circle cx="409.8" cy="507.8" r="26.4" stroke="#111" stroke-width="1.3" fill="none" />
<rect x="441.6" y="511.3" width="66.4" height="25.9" stroke="#111" stroke-width="1.5" fill="none" rx="0" />
<line x1="442.2" y1="536.8" x2="507.6" y2="511.6" stroke="#111" stroke-width="1.3" />
<text transform="translate(443.94,523.40) scale(1.0491,1)" font-size="13.52" font-weight="normal" fill="#111" >kWh</text>
<path d="M484.5,533.3 L489.6,533.3 L489.6,522 L499.5,522 L499.5,533.3 L503.5,533.3" stroke="#111" stroke-width="1.4" fill="none" />
<rect x="511.3" y="510.3" width="73.8" height="26.6" stroke="#111" stroke-width="1.5" fill="none" rx="0" />
<text transform="translate(514.37,528.40) scale(0.9933,1)" font-size="15.55" font-weight="normal" fill="#111" >Inputs</text>
<path d="M561.2,528.9 L566,528.9 L566,517.9 L577.4,517.9 L577.4,528.9 L582.2,528.9" stroke="#111" stroke-width="1.8" fill="none" />
<rect x="229.2" y="569.7" width="362.1" height="178.7" stroke="#111" stroke-width="1.6" fill="none" rx="6" />
<rect x="241.8" y="597" width="336.6" height="125.3" stroke="#1c1c1c" stroke-width="1.4" fill="#e3e3e5" rx="6" />
<rect x="271.6" y="624.8" width="266.3" height="64.8" stroke="none" stroke-width="0" fill="#fff" rx="3" />
<path d="M327.8,602.4 L317.1,602.4 Q314.3,602.4 314.3,605.1999999999999 L314.3,605.5000000000001 Q314.3,608.3000000000001 317.1,608.3000000000001 L327.8,608.3000000000001 M314.3,605.35 L327.2,605.35" stroke="#1b1b1b" stroke-width="2.6" fill="none" stroke-linejoin="round"/>
<path d="M330.90000000000003,601.1 L330.90000000000003,609.6" stroke="#1b1b1b" stroke-width="2.2" fill="none" stroke-linejoin="round"/>
<path d="M343.6,602.0 L334.0,605.35 L343.6,608.7" stroke="#1b1b1b" stroke-width="2.7" fill="none" stroke-linejoin="round"/>
<path d="M347.0,609.6 L347.0,605.1999999999999 Q347.0,602.4 349.8,602.4 L362.79999999999995,602.4 Q365.59999999999997,602.4 365.59999999999997,605.1999999999999 L365.59999999999997,609.6 M356.29999999999995,602.4 L356.29999999999995,609.6" stroke="#1b1b1b" stroke-width="2.6" fill="none" stroke-linejoin="round"/>
<path d="M377.5,609.6 L377.5,605.1999999999999 Q377.5,602.4 380.3,602.4 L392.0,602.4 Q394.8,602.4 394.8,605.1999999999999 L394.8,609.6 M386.15,602.4 L386.15,609.6" stroke="#1b1b1b" stroke-width="2.6" fill="none" stroke-linejoin="round"/>
<path d="M413.2,602.4 L402.0,602.4 Q399.2,602.4 399.2,605.1999999999999 L399.2,605.5000000000001 Q399.2,608.3000000000001 402.0,608.3000000000001 L413.2,608.3000000000001 M399.2,605.35 L412.59999999999997,605.35" stroke="#1b1b1b" stroke-width="2.6" fill="none" stroke-linejoin="round"/>
<path d="M414.2,602.4 L429.3,602.4 M421.75,602.4 L421.75,609.6" stroke="#1b1b1b" stroke-width="2.6" fill="none" stroke-linejoin="round"/>
<path d="M445.2,602.4 L434.90000000000003,602.4 Q432.1,602.4 432.1,605.1999999999999 L432.1,605.5000000000001 Q432.1,608.3000000000001 434.90000000000003,608.3000000000001 L445.2,608.3000000000001 M432.1,605.35 L444.59999999999997,605.35" stroke="#1b1b1b" stroke-width="2.6" fill="none" stroke-linejoin="round"/>
<path d="M448.5,609.6 L448.5,602.4 L459.2,602.4 Q461.59999999999997,602.4 461.59999999999997,604.0 Q461.59999999999997,605.65 459.2,605.65 L448.5,605.65 M458.4,605.65 L462.59999999999997,609.6" stroke="#1b1b1b" stroke-width="2.6" fill="none" stroke-linejoin="round"/>
<path d="M466.45,601.1 L466.45,609.6" stroke="#1b1b1b" stroke-width="3.1000000000000227" fill="none" stroke-linejoin="round"/>
<path d="M471.6,609.6 L471.6,602.4 L481.8,602.4 Q484.8,602.4 484.8,605.4 L484.8,609.6" stroke="#1b1b1b" stroke-width="2.6" fill="none" stroke-linejoin="round"/>
<path d="M504.8,602.4 L492.3,602.4 Q489.5,602.4 489.5,605.1999999999999 L489.5,605.5000000000001 Q489.5,608.3000000000001 492.3,608.3000000000001 L500.7,608.3000000000001 Q503.5,608.3000000000001 503.5,605.5000000000001 L503.5,605.35 L498.3,605.35" stroke="#1b1b1b" stroke-width="2.6" fill="none" stroke-linejoin="round"/>
<text transform="translate(337.12,621.30) scale(1.1964,1)" font-size="11.92" font-weight="bold" fill="#1b1b1b" >Omnimeter Pulse v.4</text>
<ellipse cx="550.5" cy="640" rx="5.6" ry="4.8" fill="#fff"/>
<text transform="translate(558.43,641.90) scale(1.5847,1)" font-size="5.30" font-weight="bold" fill="#1b1b1b" >800</text>
<text transform="translate(543.47,650.50) scale(1.2332,1)" font-size="6.21" font-weight="bold" fill="#1b1b1b" >imp/kWh</text>
<rect x="549.3" y="658.4" width="18.3" height="14.9" stroke="#111" stroke-width="1.4" fill="none" rx="0" />
<rect x="553.1" y="662" width="10.7" height="8.2" stroke="#111" stroke-width="1.3" fill="none" rx="0" />
<path d="M557,680.6 A4.9,4.9 0 1 0 557,689.6" stroke="#111" stroke-width="1.3" fill="none" />
<path d="M567.2,680.6 A4.9,4.9 0 1 0 567.2,689.6 M561.2,685.1 L566.6,685.1" stroke="#111" stroke-width="1.3" fill="none" />
<path d="M828,0 L547,0 L547,1013 C453,926 340,862 184,810 L184,1054 C266,1081 354,1131 449,1205 C544,1279 609,1351 643,1409 L828,1409 Z" fill="#1b1b1b" transform="translate(248.06,700.30) scale(0.00508,-0.00405)"/>
<path d="M828,0 L547,0 L547,1013 C453,926 340,862 184,810 L184,1054 C266,1081 354,1131 449,1205 C544,1279 609,1351 643,1409 L828,1409 Z" fill="#1b1b1b" transform="translate(283.79,700.30) scale(0.00508,-0.00405)"/>
<text transform="translate(248.06,700.30) scale(1.2563,1)" font-size="8.28" font-weight="bold" fill="#1b1b1b" > Φ2W,  Φ3W, 3Φ3W, 3Φ4W Universal kWh Meter</text>
<path d="M828,0 L547,0 L547,1013 C453,926 340,862 184,810 L184,1054 C266,1081 354,1131 449,1205 C544,1279 609,1351 643,1409 L828,1409 Z" fill="#1b1b1b" transform="translate(248.05,708.70) scale(0.00516,-0.00412)"/>
<path d="M828,0 L547,0 L547,1013 C453,926 340,862 184,810 L184,1054 C266,1081 354,1131 449,1205 C544,1279 609,1351 643,1409 L828,1409 Z" fill="#1b1b1b" transform="translate(259.81,708.70) scale(0.00516,-0.00412)"/>
<path d="M828,0 L547,0 L547,1013 C453,926 340,862 184,810 L184,1054 C266,1081 354,1131 449,1205 C544,1279 609,1351 643,1409 L828,1409 Z" fill="#1b1b1b" transform="translate(286.86,708.70) scale(0.00516,-0.00412)"/>
<path d="M828,0 L547,0 L547,1013 C453,926 340,862 184,810 L184,1054 C266,1081 354,1131 449,1205 C544,1279 609,1351 643,1409 L828,1409 Z" fill="#1b1b1b" transform="translate(323.31,708.70) scale(0.00516,-0.00412)"/>
<path d="M828,0 L547,0 L547,1013 C453,926 340,862 184,810 L184,1054 C266,1081 354,1131 449,1205 C544,1279 609,1351 643,1409 L828,1409 Z" fill="#1b1b1b" transform="translate(386.80,708.70) scale(0.00516,-0.00412)"/>
<text transform="translate(248.05,708.70) scale(1.2543,1)" font-size="8.43" font-weight="bold" fill="#1b1b1b" > x 20-4 5V, 2x 20-480V, 3x 20-480Vac  50/60Hz</text>
<path d="M828,0 L547,0 L547,1013 C453,926 340,862 184,810 L184,1054 C266,1081 354,1131 449,1205 C544,1279 609,1351 643,1409 L828,1409 Z" fill="#1b1b1b" transform="translate(248.04,716.90) scale(0.00520,-0.00397)"/>
<text transform="translate(248.04,716.90) scale(1.3074,1)" font-size="8.14" font-weight="bold" fill="#1b1b1b" > 0(200)A  CL200 TA=30 K</text>
<text transform="translate(376.10,717.88) scale(1.3074,1)" font-size="5.70" font-weight="bold" fill="#1b1b1b" >h</text>
<text transform="translate(380.65,716.90) scale(1.3074,1)" font-size="8.14" font-weight="bold" fill="#1b1b1b" >/K</text>
<text transform="translate(391.29,717.88) scale(1.3074,1)" font-size="5.70" font-weight="bold" fill="#1b1b1b" >t</text>
<path d="M828,0 L547,0 L547,1013 C453,926 340,862 184,810 L184,1054 C266,1081 354,1131 449,1205 C544,1279 609,1351 643,1409 L828,1409 Z" fill="#1b1b1b" transform="translate(399.98,716.90) scale(0.00520,-0.00397)"/>
<text transform="translate(393.77,716.90) scale(1.3074,1)" font-size="8.14" font-weight="bold" fill="#1b1b1b" >= .25 CTR=200A:26.6mA</text>
<path d="M828,0 L547,0 L547,1013 C453,926 340,862 184,810 L184,1054 C266,1081 354,1131 449,1205 C544,1279 609,1351 643,1409 L828,1409 Z" fill="#1b1b1b" transform="translate(562.30,699.70) scale(0.00620,-0.00462)"/>
<path d="M828,0 L547,0 L547,1013 C453,926 340,862 184,810 L184,1054 C266,1081 354,1131 449,1205 C544,1279 609,1351 643,1409 L828,1409 Z" fill="#1b1b1b" transform="translate(569.36,699.70) scale(0.00620,-0.00462)"/>
<text transform="translate(501.55,699.70) scale(1.3443,1)" font-size="9.45" font-weight="bold" fill="#1b1b1b" >IEC62052-  </text>
<path d="M828,0 L547,0 L547,1013 C453,926 340,862 184,810 L184,1054 C266,1081 354,1131 449,1205 C544,1279 609,1351 643,1409 L828,1409 Z" fill="#1b1b1b" transform="translate(567.96,707.40) scale(0.00632,-0.00455)"/>
<text transform="translate(520.43,707.40) scale(1.3915,1)" font-size="9.31" font-weight="bold" fill="#1b1b1b" >62053-2 </text>
<text transform="translate(522.67,715.40) scale(1.0757,1)" font-size="5.96" font-weight="bold" fill="#1b1b1b" >Mod.EKM-OMPv4</text>
<text transform="translate(400.96,741.70) scale(1.1668,1)" font-size="17.71" font-weight="normal" fill="#111" >S/N 000000000000</text>
<circle cx="254.1" cy="814.3" r="15.1" stroke="#111" stroke-width="1.2" fill="none" />
<circle cx="303.3" cy="815.0" r="15.1" stroke="#111" stroke-width="1.2" fill="none" />
<circle cx="351.5" cy="815.0" r="15.1" stroke="#111" stroke-width="1.2" fill="none" />
<path d="M763,0 L583,0 L583,1098 C540,1059 483,1019 413,980 C343,941 280,911 223,890 L223,1057 C324,1102 412,1157 487,1221 C562,1285 616,1348 647,1409 L763,1409 Z" fill="#111" transform="translate(261.84,819.90) scale(0.00794,-0.00706)"/>
<text transform="translate(240.17,819.90) scale(1.1238,1)" font-size="14.46" font-weight="normal" fill="#111" >CT </text>
<text transform="translate(289.22,821.50) scale(1.0594,1)" font-size="14.46" font-weight="normal" fill="#111" >CT2</text>
<text transform="translate(337.51,821.10) scale(1.0710,1)" font-size="14.46" font-weight="normal" fill="#111" >CT3</text>
<line x1="247.7" y1="829.4" x2="247.89999999999998" y2="843.5" stroke="#111" stroke-width="1.2" />
<path d="M246.0,834.8 L249.6,834.8 L247.79999999999998,839.8 Z" stroke="#111" stroke-width="0.6" fill="#111" />
<line x1="265.6" y1="841.4" x2="257.8" y2="829.6999999999999" stroke="#111" stroke-width="1.2" />
<path d="M257.70000000000005,829.6 L258.0,835.6 L261.20000000000005,833.6 Z" stroke="#111" stroke-width="0.6" fill="#111" />
<line x1="297.0" y1="830.0" x2="297.2" y2="843.5" stroke="#111" stroke-width="1.2" />
<path d="M295.3,834.8 L298.9,834.8 L297.1,839.8 Z" stroke="#111" stroke-width="0.6" fill="#111" />
<line x1="315.0" y1="841.4" x2="307.2" y2="830.3" stroke="#111" stroke-width="1.2" />
<path d="M307.1,830.2 L307.4,836.2 L310.6,834.2 Z" stroke="#111" stroke-width="0.6" fill="#111" />
<line x1="345.3" y1="830.0" x2="345.5" y2="843.5" stroke="#111" stroke-width="1.2" />
<path d="M343.6,834.8 L347.2,834.8 L345.40000000000003,839.8 Z" stroke="#111" stroke-width="0.6" fill="#111" />
<line x1="363.2" y1="841.4" x2="355.4" y2="830.3" stroke="#111" stroke-width="1.2" />
<path d="M355.3,830.2 L355.59999999999997,836.2 L358.8,834.2 Z" stroke="#111" stroke-width="0.6" fill="#111" />
<rect x="230.9" y="841.4" width="145.4" height="25.0" stroke="#111" stroke-width="1.5" fill="none" rx="0" />
<path d="M763,0 L583,0 L583,1098 C540,1059 483,1019 413,980 C343,941 280,911 223,890 L223,1057 C324,1102 412,1157 487,1221 C562,1285 616,1348 647,1409 L763,1409 Z" fill="#111" transform="translate(235.39,861.00) scale(0.01086,-0.01006)"/>
<text transform="translate(235.39,861.00) scale(1.0800,1)" font-size="20.60" font-weight="normal" fill="#111" > </text>
<line x1="253.0" y1="841.4" x2="253.0" y2="866.4" stroke="#111" stroke-width="1.3" />
<text transform="translate(262.61,861.00) scale(1.0800,1)" font-size="20.60" font-weight="normal" fill="#111" >2</text>
<line x1="278.3" y1="841.4" x2="278.3" y2="866.4" stroke="#111" stroke-width="1.3" />
<text transform="translate(285.78,861.00) scale(1.0800,1)" font-size="20.60" font-weight="normal" fill="#111" >3</text>
<line x1="303.9" y1="841.4" x2="303.9" y2="866.4" stroke="#111" stroke-width="1.3" />
<text transform="translate(309.33,861.00) scale(1.0800,1)" font-size="20.60" font-weight="normal" fill="#111" >4</text>
<line x1="328.3" y1="841.4" x2="328.3" y2="866.4" stroke="#111" stroke-width="1.3" />
<text transform="translate(335.69,861.00) scale(1.0800,1)" font-size="20.60" font-weight="normal" fill="#111" >5</text>
<line x1="352.5" y1="841.4" x2="352.5" y2="866.4" stroke="#111" stroke-width="1.3" />
<text transform="translate(358.64,861.00) scale(1.0800,1)" font-size="20.60" font-weight="normal" fill="#111" >6</text>
<rect x="224.6" y="872.3" width="156.5" height="23.4" stroke="#111" stroke-width="1.5" fill="none" rx="11.7" />
<circle cx="236.3" cy="883.9" r="9.4" stroke="#333" stroke-width="1.2" fill="none" />
<rect x="231.22" y="881.93" width="10.15" height="3.95" stroke="#888" stroke-width="0.75" fill="none" rx="0" />
<rect x="234.33" y="878.82" width="3.95" height="10.15" stroke="#888" stroke-width="0.75" fill="none" rx="0" />
<circle cx="236.3" cy="883.9" r="1.2220000000000002" stroke="#333" stroke-width="0.6" fill="#333" />
<circle cx="262.75" cy="883.9" r="9.4" stroke="#333" stroke-width="1.2" fill="none" />
<rect x="257.67" y="881.93" width="10.15" height="3.95" stroke="#888" stroke-width="0.75" fill="none" rx="0" />
<rect x="260.78" y="878.82" width="3.95" height="10.15" stroke="#888" stroke-width="0.75" fill="none" rx="0" />
<circle cx="262.75" cy="883.9" r="1.2220000000000002" stroke="#333" stroke-width="0.6" fill="#333" />
<circle cx="289.2" cy="883.9" r="9.4" stroke="#333" stroke-width="1.2" fill="none" />
<rect x="284.12" y="881.93" width="10.15" height="3.95" stroke="#888" stroke-width="0.75" fill="none" rx="0" />
<rect x="287.23" y="878.82" width="3.95" height="10.15" stroke="#888" stroke-width="0.75" fill="none" rx="0" />
<circle cx="289.2" cy="883.9" r="1.2220000000000002" stroke="#333" stroke-width="0.6" fill="#333" />
<circle cx="315.65" cy="883.9" r="9.4" stroke="#333" stroke-width="1.2" fill="none" />
<rect x="310.57" y="881.93" width="10.15" height="3.95" stroke="#888" stroke-width="0.75" fill="none" rx="0" />
<rect x="313.68" y="878.82" width="3.95" height="10.15" stroke="#888" stroke-width="0.75" fill="none" rx="0" />
<circle cx="315.65" cy="883.9" r="1.2220000000000002" stroke="#333" stroke-width="0.6" fill="#333" />
<circle cx="342.1" cy="883.9" r="9.4" stroke="#333" stroke-width="1.2" fill="none" />
<rect x="337.02" y="881.93" width="10.15" height="3.95" stroke="#888" stroke-width="0.75" fill="none" rx="0" />
<rect x="340.13" y="878.82" width="3.95" height="10.15" stroke="#888" stroke-width="0.75" fill="none" rx="0" />
<circle cx="342.1" cy="883.9" r="1.2220000000000002" stroke="#333" stroke-width="0.6" fill="#333" />
<circle cx="368.55" cy="883.9" r="9.4" stroke="#333" stroke-width="1.2" fill="none" />
<rect x="363.47" y="881.93" width="10.15" height="3.95" stroke="#888" stroke-width="0.75" fill="none" rx="0" />
<rect x="366.58" y="878.82" width="3.95" height="10.15" stroke="#888" stroke-width="0.75" fill="none" rx="0" />
<circle cx="368.55" cy="883.9" r="1.2220000000000002" stroke="#333" stroke-width="0.6" fill="#333" />
<circle cx="410.2" cy="811.1" r="26.9" stroke="#111" stroke-width="1.3" fill="none" />
<rect x="439.9" y="818.8" width="145.60000000000002" height="25.3" stroke="#111" stroke-width="1.5" fill="none" rx="0" />
<line x1="475.3" y1="818.8" x2="475.3" y2="844.1" stroke="#111" stroke-width="1.3" />
<line x1="512.9" y1="818.8" x2="512.9" y2="844.1" stroke="#111" stroke-width="1.3" />
<line x1="548.5" y1="818.8" x2="548.5" y2="844.1" stroke="#111" stroke-width="1.3" />
<text transform="translate(453.05,839.80) scale(1.0000,1)" font-size="21.00" font-weight="normal" fill="#111" >7</text>
<text transform="translate(488.56,839.80) scale(1.0000,1)" font-size="21.00" font-weight="normal" fill="#111" >8</text>
<text transform="translate(524.42,839.80) scale(1.0000,1)" font-size="21.00" font-weight="normal" fill="#111" >9</text>
<path d="M763,0 L583,0 L583,1098 C540,1059 483,1019 413,980 C343,941 280,911 223,890 L223,1057 C324,1102 412,1157 487,1221 C562,1285 616,1348 647,1409 L763,1409 Z" fill="#111" transform="translate(555.49,839.80) scale(0.01025,-0.01025)"/>
<text transform="translate(555.49,839.80) scale(1.0000,1)" font-size="21.00" font-weight="normal" fill="#111" > 0</text>
<path d="M763,0 L583,0 L583,1098 C540,1059 483,1019 413,980 C343,941 280,911 223,890 L223,1057 C324,1102 412,1157 487,1221 C562,1285 616,1348 647,1409 L763,1409 Z" fill="#111" transform="translate(462.02,807.90) scale(0.00980,-0.00788)"/>
<text transform="translate(450.85,807.90) scale(1.2445,1)" font-size="16.13" font-weight="normal" fill="#111" >L </text>
<text transform="translate(487.48,807.90) scale(1.1618,1)" font-size="15.90" font-weight="normal" fill="#111" >L2</text>
<text transform="translate(521.06,807.90) scale(1.1799,1)" font-size="15.90" font-weight="normal" fill="#111" >L3</text>
<text transform="translate(558.03,807.90) scale(1.1873,1)" font-size="16.13" font-weight="normal" fill="#111" >N</text>
<line x1="459.8" y1="810.2" x2="459.8" y2="818.8" stroke="#111" stroke-width="1.2" />
<line x1="496.0" y1="810.2" x2="496.0" y2="818.8" stroke="#111" stroke-width="1.2" />
<line x1="529.8" y1="810.2" x2="529.8" y2="818.8" stroke="#111" stroke-width="1.2" />
<line x1="564.5" y1="810.2" x2="564.5" y2="818.8" stroke="#111" stroke-width="1.2" />
<circle cx="429.8" cy="868.7" r="14.6" stroke="#111" stroke-width="1.4" fill="none" />
<circle cx="429.8" cy="868.7" r="10.7" stroke="#444" stroke-width="1.3" fill="none" />
<line x1="420.3" y1="866.9" x2="439.3" y2="866.9" stroke="#777" stroke-width="1" />
<line x1="419.8" y1="870.4" x2="439.8" y2="870.4" stroke="#777" stroke-width="1" />
<circle cx="480.1" cy="868.7" r="14.6" stroke="#111" stroke-width="1.4" fill="none" />
<circle cx="480.1" cy="868.7" r="10.7" stroke="#444" stroke-width="1.3" fill="none" />
<line x1="470.6" y1="866.9" x2="489.6" y2="866.9" stroke="#777" stroke-width="1" />
<line x1="470.1" y1="870.4" x2="490.1" y2="870.4" stroke="#777" stroke-width="1" />
<circle cx="530.6" cy="868.7" r="14.6" stroke="#111" stroke-width="1.4" fill="none" />
<circle cx="530.6" cy="868.7" r="10.7" stroke="#444" stroke-width="1.3" fill="none" />
<line x1="521.1" y1="866.9" x2="540.1" y2="866.9" stroke="#777" stroke-width="1" />
<line x1="520.6" y1="870.4" x2="540.6" y2="870.4" stroke="#777" stroke-width="1" />
<circle cx="580.4" cy="868.7" r="14.6" stroke="#111" stroke-width="1.4" fill="none" />
<circle cx="580.4" cy="868.7" r="10.7" stroke="#444" stroke-width="1.3" fill="none" />
<line x1="570.9" y1="866.9" x2="589.9" y2="866.9" stroke="#777" stroke-width="1" />
<line x1="570.4" y1="870.4" x2="590.4" y2="870.4" stroke="#777" stroke-width="1" />
<rect x="23.6" y="681.6" width="87.0" height="240.0" stroke="#111" stroke-width="1.3" fill="none" rx="0" />
<line x1="23.6" y1="829.6" x2="110.6" y2="829.6" stroke="#111" stroke-width="1.3" />
<text transform="translate(33.87,712.80) scale(1.0441,1)" font-size="15.73" font-weight="normal" fill="#111" >CT leads</text>
<text transform="translate(40.83,741.30) scale(1.0820,1)" font-size="12.01" font-weight="normal" fill="#111" >Blk</text>
<text transform="translate(72.14,741.30) scale(1.0516,1)" font-size="12.01" font-weight="normal" fill="#111" >Wht</text>
<line x1="56.9" y1="744.5" x2="56.9" y2="810" stroke="#111" stroke-width="1.3" />
<line x1="76.7" y1="744.5" x2="76.7" y2="810" stroke="#111" stroke-width="1.3" stroke-dasharray="4,2.2"/>
<line x1="47.5" y1="800" x2="84.5" y2="800" stroke="#111" stroke-width="1.5" />
<line x1="47.5" y1="809.1" x2="84.5" y2="809.1" stroke="#111" stroke-width="1.5" />
<path d="M56.9,809 A4.95,6.2 0 0 0 66.8,809 A4.95,6.2 0 0 0 76.7,809" stroke="#111" stroke-width="1.3" fill="none" />
<text transform="translate(48.15,857.60) scale(1.0228,1)" font-size="16.13" font-weight="normal" fill="#111" >Fuse</text>
<line x1="67.2" y1="872.2" x2="67.2" y2="897.9" stroke="#999" stroke-width="0.9" />
<rect x="64.4" y="878.7" width="5.5" height="12" stroke="#777" stroke-width="0.9" fill="#fff" rx="0" />
<line x1="64.6" y1="879.2" x2="69.7" y2="890.2" stroke="#777" stroke-width="0.7" />
<line x1="89.7" y1="968.8" x2="717" y2="968.8" stroke="#666" stroke-width="1.4" />
<line x1="89.7" y1="1006.6" x2="717" y2="1006.6" stroke="#555" stroke-width="1.4" />
<path d="M716.5,965.2 L727,968.8 L716.5,972.4 Z" stroke="#111" stroke-width="0.5" fill="#111" />
<path d="M716.5,1003 L727,1006.6 L716.5,1010.2 Z" stroke="#111" stroke-width="0.5" fill="#111" />
<path d="M763,0 L583,0 L583,1098 C540,1059 483,1019 413,980 C343,941 280,911 223,890 L223,1057 C324,1102 412,1157 487,1221 C562,1285 616,1348 647,1409 L763,1409 Z" fill="#111" transform="translate(704.80,963.40) scale(0.01075,-0.00923)"/>
<text transform="translate(663.19,963.40) scale(1.1640,1)" font-size="18.91" font-weight="normal" fill="#111" >Line </text>
<text transform="translate(664.35,1001.30) scale(1.1328,1)" font-size="19.91" font-weight="normal" fill="#111" >N</text>
<line x1="429.9" y1="883.3" x2="429.9" y2="942.8" stroke="#555" stroke-width="1.1" />
<rect x="426.3" y="942.8" width="7.2" height="16.7" stroke="#444" stroke-width="1" fill="#fff" rx="0" />
<line x1="426.8" y1="944.5" x2="433" y2="958" stroke="#555" stroke-width="0.8" />
<line x1="429.9" y1="959.5" x2="429.9" y2="968" stroke="#555" stroke-width="1.1" />
<circle cx="430.1" cy="968.3" r="3.7" stroke="#111" stroke-width="0" fill="#111" />
<path d="M580.3,883.1 L580.3,955.3 A9.3,12.6 0 0 1 580.3,980.6 L580.3,1006.5" stroke="#555" stroke-width="1.2" fill="none" />
<circle cx="580.3" cy="1006.5" r="3.6" stroke="#111" stroke-width="0" fill="#111" />
<line x1="236.0" y1="896" x2="236.0" y2="976" stroke="#111" stroke-width="1.5" />
<line x1="263.2" y1="896" x2="263.2" y2="976" stroke="#111" stroke-width="1.6" stroke-dasharray="4.6,2.5"/>
<line x1="223.3" y1="963.1" x2="274.2" y2="963.1" stroke="#111" stroke-width="1.5" />
<line x1="223.3" y1="975.1" x2="274.2" y2="975.1" stroke="#111" stroke-width="1.5" />
<path d="M235.8,975 A6.8,8.8 0 0 0 249.4,975 A6.8,8.8 0 0 0 263,975" stroke="#111" stroke-width="1.3" fill="none" />
<path d="M763,0 L583,0 L583,1098 C540,1059 483,1019 413,980 C343,941 280,911 223,890 L223,1057 C324,1102 412,1157 487,1221 C562,1285 616,1348 647,1409 L763,1409 Z" fill="#111" transform="translate(249.89,995.70) scale(0.00696,-0.00622)"/>
<text transform="translate(230.88,995.70) scale(1.1189,1)" font-size="12.75" font-weight="normal" fill="#111" >CT </text>
<line x1="288.8" y1="173" x2="299.1" y2="198" stroke="#ee5a24" stroke-width="2" />
<line x1="315.3" y1="173" x2="303.6" y2="198" stroke="#ee5a24" stroke-width="2" />
<line x1="299" y1="392" x2="290.8" y2="417.4" stroke="#ee5a24" stroke-width="2" />
<line x1="303.5" y1="392" x2="310.8" y2="417.4" stroke="#ee5a24" stroke-width="2" />
<path d="M299.10,197.0 L299.11,198.0 L299.13,199.0 L299.17,200.0 L299.22,201.0 L299.29,202.0 L299.37,203.0 L299.47,204.0 L299.58,205.0 L299.70,206.0 L299.84,207.0 L299.98,208.0 L300.14,209.0 L300.30,210.0 L300.47,211.0 L300.65,212.0 L300.83,213.0 L301.02,214.0 L301.21,215.0 L301.40,216.0 L301.60,217.0 L301.79,218.0 L301.98,219.0 L302.17,220.0 L302.35,221.0 L302.53,222.0 L302.70,223.0 L302.86,224.0 L303.02,225.0 L303.16,226.0 L303.30,227.0 L303.42,228.0 L303.53,229.0 L303.63,230.0 L303.71,231.0 L303.78,232.0 L303.83,233.0 L303.87,234.0 L303.89,235.0 L303.90,236.0 L303.89,237.0 L303.87,238.0 L303.83,239.0 L303.78,240.0 L303.71,241.0 L303.63,242.0 L303.53,243.0 L303.42,244.0 L303.30,245.0 L303.16,246.0 L303.02,247.0 L302.86,248.0 L302.70,249.0 L302.53,250.0 L302.35,251.0 L302.17,252.0 L301.98,253.0 L301.79,254.0 L301.60,255.0 L301.40,256.0 L301.21,257.0 L301.02,258.0 L300.83,259.0 L300.65,260.0 L300.47,261.0 L300.30,262.0 L300.14,263.0 L299.98,264.0 L299.84,265.0 L299.70,266.0 L299.58,267.0 L299.47,268.0 L299.37,269.0 L299.29,270.0 L299.22,271.0 L299.17,272.0 L299.13,273.0 L299.11,274.0 L299.10,275.0 L299.11,276.0 L299.13,277.0 L299.17,278.0 L299.22,279.0 L299.29,280.0 L299.37,281.0 L299.47,282.0 L299.58,283.0 L299.70,284.0 L299.84,285.0 L299.98,286.0 L300.14,287.0 L300.30,288.0 L300.47,289.0 L300.65,290.0 L300.83,291.0 L301.02,292.0 L301.21,293.0 L301.40,294.0 L301.60,295.0 L301.79,296.0 L301.98,297.0 L302.17,298.0 L302.35,299.0 L302.53,300.0 L302.70,301.0 L302.86,302.0 L303.02,303.0 L303.16,304.0 L303.30,305.0 L303.42,306.0 L303.53,307.0 L303.63,308.0 L303.71,309.0 L303.78,310.0 L303.83,311.0 L303.87,312.0 L303.89,313.0 L303.90,314.0 L303.89,315.0 L303.87,316.0 L303.83,317.0 L303.78,318.0 L303.71,319.0 L303.63,320.0 L303.53,321.0 L303.42,322.0 L303.30,323.0 L303.16,324.0 L303.02,325.0 L302.86,326.0 L302.70,327.0 L302.53,328.0 L302.35,329.0 L302.17,330.0 L301.98,331.0 L301.79,332.0 L301.60,333.0 L301.40,334.0 L301.21,335.0 L301.02,336.0 L300.83,337.0 L300.65,338.0 L300.47,339.0 L300.30,340.0 L300.14,341.0 L299.98,342.0 L299.84,343.0 L299.70,344.0 L299.58,345.0 L299.47,346.0 L299.37,347.0 L299.29,348.0 L299.22,349.0 L299.17,350.0 L299.13,351.0 L299.11,352.0 L299.10,353.0 L299.11,354.0 L299.13,355.0 L299.17,356.0 L299.22,357.0 L299.29,358.0 L299.37,359.0 L299.47,360.0 L299.58,361.0 L299.70,362.0 L299.84,363.0 L299.98,364.0 L300.14,365.0 L300.30,366.0 L300.47,367.0 L300.65,368.0 L300.83,369.0 L301.02,370.0 L301.21,371.0 L301.40,372.0 L301.60,373.0 L301.79,374.0 L301.98,375.0 L302.17,376.0 L302.35,377.0 L302.53,378.0 L302.70,379.0 L302.86,380.0 L303.02,381.0 L303.16,382.0 L303.30,383.0 L303.42,384.0 L303.53,385.0 L303.63,386.0 L303.71,387.0 L303.78,388.0 L303.83,389.0 L303.87,390.0 L303.89,391.0 L303.90,392.0 L303.89,393.0" stroke="#ef2b2b" stroke-width="3.3" fill="none" />
<path d="M303.90,197.0 L303.89,198.0 L303.87,199.0 L303.83,200.0 L303.78,201.0 L303.71,202.0 L303.63,203.0 L303.53,204.0 L303.42,205.0 L303.30,206.0 L303.16,207.0 L303.02,208.0 L302.86,209.0 L302.70,210.0 L302.53,211.0 L302.35,212.0 L302.17,213.0 L301.98,214.0 L301.79,215.0 L301.60,216.0 L301.40,217.0 L301.21,218.0 L301.02,219.0 L300.83,220.0 L300.65,221.0 L300.47,222.0 L300.30,223.0 L300.14,224.0 L299.98,225.0 L299.84,226.0 L299.70,227.0 L299.58,228.0 L299.47,229.0 L299.37,230.0 L299.29,231.0 L299.22,232.0 L299.17,233.0 L299.13,234.0 L299.11,235.0 L299.10,236.0 L299.11,237.0 L299.13,238.0 L299.17,239.0 L299.22,240.0 L299.29,241.0 L299.37,242.0 L299.47,243.0 L299.58,244.0 L299.70,245.0 L299.84,246.0 L299.98,247.0 L300.14,248.0 L300.30,249.0 L300.47,250.0 L300.65,251.0 L300.83,252.0 L301.02,253.0 L301.21,254.0 L301.40,255.0 L301.60,256.0 L301.79,257.0 L301.98,258.0 L302.17,259.0 L302.35,260.0 L302.53,261.0 L302.70,262.0 L302.86,263.0 L303.02,264.0 L303.16,265.0 L303.30,266.0 L303.42,267.0 L303.53,268.0 L303.63,269.0 L303.71,270.0 L303.78,271.0 L303.83,272.0 L303.87,273.0 L303.89,274.0 L303.90,275.0 L303.89,276.0 L303.87,277.0 L303.83,278.0 L303.78,279.0 L303.71,280.0 L303.63,281.0 L303.53,282.0 L303.42,283.0 L303.30,284.0 L303.16,285.0 L303.02,286.0 L302.86,287.0 L302.70,288.0 L302.53,289.0 L302.35,290.0 L302.17,291.0 L301.98,292.0 L301.79,293.0 L301.60,294.0 L301.40,295.0 L301.21,296.0 L301.02,297.0 L300.83,298.0 L300.65,299.0 L300.47,300.0 L300.30,301.0 L300.14,302.0 L299.98,303.0 L299.84,304.0 L299.70,305.0 L299.58,306.0 L299.47,307.0 L299.37,308.0 L299.29,309.0 L299.22,310.0 L299.17,311.0 L299.13,312.0 L299.11,313.0 L299.10,314.0 L299.11,315.0 L299.13,316.0 L299.17,317.0 L299.22,318.0 L299.29,319.0 L299.37,320.0 L299.47,321.0 L299.58,322.0 L299.70,323.0 L299.84,324.0 L299.98,325.0 L300.14,326.0 L300.30,327.0 L300.47,328.0 L300.65,329.0 L300.83,330.0 L301.02,331.0 L301.21,332.0 L301.40,333.0 L301.60,334.0 L301.79,335.0 L301.98,336.0 L302.17,337.0 L302.35,338.0 L302.53,339.0 L302.70,340.0 L302.86,341.0 L303.02,342.0 L303.16,343.0 L303.30,344.0 L303.42,345.0 L303.53,346.0 L303.63,347.0 L303.71,348.0 L303.78,349.0 L303.83,350.0 L303.87,351.0 L303.89,352.0 L303.90,353.0 L303.89,354.0 L303.87,355.0 L303.83,356.0 L303.78,357.0 L303.71,358.0 L303.63,359.0 L303.53,360.0 L303.42,361.0 L303.30,362.0 L303.16,363.0 L303.02,364.0 L302.86,365.0 L302.70,366.0 L302.53,367.0 L302.35,368.0 L302.17,369.0 L301.98,370.0 L301.79,371.0 L301.60,372.0 L301.40,373.0 L301.21,374.0 L301.02,375.0 L300.83,376.0 L300.65,377.0 L300.47,378.0 L300.30,379.0 L300.14,380.0 L299.98,381.0 L299.84,382.0 L299.70,383.0 L299.58,384.0 L299.47,385.0 L299.37,386.0 L299.29,387.0 L299.22,388.0 L299.17,389.0 L299.13,390.0 L299.11,391.0 L299.10,392.0 L299.11,393.0" stroke="#33b05a" stroke-width="3.3" fill="none" />
<path d="M299.84,246.0 L299.98,247.0 L300.14,248.0 L300.30,249.0 L300.47,250.0 L300.65,251.0 L300.83,252.0 L301.02,253.0 L301.21,254.0 L301.40,255.0 L301.60,256.0 L301.79,257.0 L301.98,258.0 L302.17,259.0 L302.35,260.0 L302.53,261.0 L302.70,262.0 L302.86,263.0 L303.02,264.0 L303.16,265.0" stroke="#33b05a" stroke-width="3.3" fill="none" />
<path d="M299.84,324.0 L299.98,325.0 L300.14,326.0 L300.30,327.0 L300.47,328.0 L300.65,329.0 L300.83,330.0 L301.02,331.0 L301.21,332.0 L301.40,333.0 L301.60,334.0 L301.79,335.0 L301.98,336.0 L302.17,337.0 L302.35,338.0 L302.53,339.0 L302.70,340.0 L302.86,341.0 L303.02,342.0 L303.16,343.0" stroke="#33b05a" stroke-width="3.3" fill="none" />
<path d="M299.84,207.0 L299.98,208.0 L300.14,209.0 L300.30,210.0 L300.47,211.0 L300.65,212.0 L300.83,213.0 L301.02,214.0 L301.21,215.0 L301.40,216.0 L301.60,217.0 L301.79,218.0 L301.98,219.0 L302.17,220.0 L302.35,221.0 L302.53,222.0 L302.70,223.0 L302.86,224.0 L303.02,225.0 L303.16,226.0" stroke="#ef2b2b" stroke-width="3.3" fill="none" />
<path d="M299.84,285.0 L299.98,286.0 L300.14,287.0 L300.30,288.0 L300.47,289.0 L300.65,290.0 L300.83,291.0 L301.02,292.0 L301.21,293.0 L301.40,294.0 L301.60,295.0 L301.79,296.0 L301.98,297.0 L302.17,298.0 L302.35,299.0 L302.53,300.0 L302.70,301.0 L302.86,302.0 L303.02,303.0 L303.16,304.0" stroke="#ef2b2b" stroke-width="3.3" fill="none" />
<path d="M299.84,363.0 L299.98,364.0 L300.14,365.0 L300.30,366.0 L300.47,367.0 L300.65,368.0 L300.83,369.0 L301.02,370.0 L301.21,371.0 L301.40,372.0 L301.60,373.0 L301.79,374.0 L301.98,375.0 L302.17,376.0 L302.35,377.0 L302.53,378.0 L302.70,379.0 L302.86,380.0 L303.02,381.0 L303.16,382.0" stroke="#ef2b2b" stroke-width="3.3" fill="none" />
</svg></body></html>
